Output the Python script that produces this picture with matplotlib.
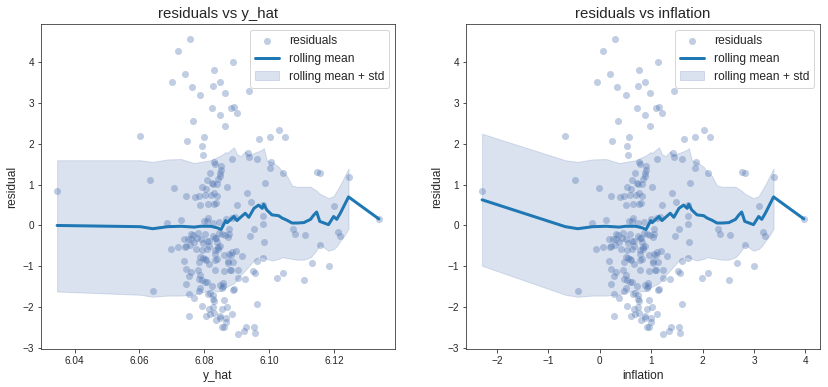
import numpy as np
import matplotlib
matplotlib.use('Agg')
from matplotlib import pyplot as plt
import seaborn as sns

# residuals (x = inflation)
inflation = [-2.29, -0.67, -0.49, -0.43, -0.16, -0.07, -0.05, -0.02,
             0.07, 0.07, 0.13, 0.17, 0.17, 0.19, 0.19, 0.21, 0.21, 0.22, 0.22, 0.24,
             0.26, 0.28, 0.28, 0.28, 0.30, 0.30, 0.32, 0.32, 0.32, 0.34, 0.36, 0.36,
             0.37, 0.38, 0.40, 0.42, 0.44, 0.46, 0.46, 0.48, 0.48, 0.48, 0.48, 0.50,
             0.50, 0.50, 0.50, 0.50, 0.51, 0.52, 0.52, 0.53, 0.53, 0.53, 0.55, 0.55,
             0.55, 0.57, 0.57, 0.58, 0.59, 0.59, 0.59, 0.61, 0.61, 0.61, 0.63, 0.63,
             0.63, 0.63, 0.63, 0.65, 0.65, 0.65, 0.67, 0.67, 0.67, 0.67, 0.69, 0.69,
             0.69, 0.71, 0.73, 0.73, 0.73, 0.75, 0.75, 0.75, 0.75, 0.75, 0.75, 0.75,
             0.76, 0.76, 0.77, 0.77, 0.77, 0.77, 0.78, 0.79, 0.79, 0.79, 0.79, 0.79,
             0.81, 0.81, 0.81, 0.83, 0.83, 0.83, 0.83, 0.84, 0.84, 0.84, 0.86, 0.86,
             0.87, 0.88, 0.88, 0.88, 0.88, 0.88, 0.88, 0.88, 0.90, 0.90, 0.92, 0.92,
             0.92, 0.92, 0.94, 0.94, 0.96, 0.96, 0.96, 0.96, 0.97, 0.98, 0.98, 1.00,
             1.00, 1.00, 1.02, 1.02, 1.04, 1.04, 1.04, 1.05, 1.05, 1.06, 1.08, 1.10,
             1.10, 1.10, 1.11, 1.12, 1.12, 1.12, 1.13, 1.14, 1.14, 1.16, 1.16, 1.17,
             1.19, 1.21, 1.21, 1.23, 1.23, 1.23, 1.31, 1.35, 1.37, 1.39, 1.41, 1.43,
             1.45, 1.45, 1.47, 1.48, 1.52, 1.54, 1.54, 1.56, 1.56, 1.60, 1.60, 1.60,
             1.64, 1.72, 1.72, 1.72, 1.72, 1.74, 1.75, 1.85, 1.85, 1.87, 1.99, 2.03,
             2.10, 2.10, 2.14, 2.30, 2.34, 2.51, 2.53, 2.67, 2.76, 2.82, 2.82, 3.00,
             3.09, 3.17, 3.22, 3.38, 3.97]
residual = [0.84, 2.20, 1.11, -1.62, 0.06, -0.58, 3.52, 0.91,
            4.28, -0.53, 0.13, -0.33, -0.87, 3.72, -0.53, 0.72, -1.43, -0.50, -1.06, 2.08,
            -0.33, -1.23, -1.67, -2.22, 4.58, -0.48, -0.33, -0.21, -1.14, 3.40, 2.57, -0.23,
            -1.77, -0.40, 0.69, -0.58, -0.31, -0.19, -1.09, 0.72, -0.89, -1.62, -1.31, 3.20,
            0.50, -0.77, -1.21, -1.53, -0.33, 1.94, -0.60, 0.94, -1.33, -1.97, 1.74, -0.43,
            -0.80, 2.18, 0.11, -1.38, 0.74, -0.21, -0.82, 0.89, -0.84, -2.22, 1.11, 0.11,
            -0.38, -0.58, -1.38, 0.18, 0.52, -1.67, -0.50, -0.38, -0.94, -2.04, 1.28, -1.65,
            -2.16, 0.74, 2.89, 1.03, -1.48, 3.42, 1.01, 0.06, -0.26, -1.70, -1.80, -2.01,
            0.52, -1.85, 3.81, 1.55, 0.79, -2.14, 1.50, -0.31, -0.60, -0.70, -0.84, -1.09,
            0.55, -0.31, -2.33, 1.01, 0.72, -0.40, -0.82, 1.13, -0.53, -0.58, 0.08, -0.19,
            1.22, 3.52, 2.72, 1.28, -0.50, -1.45, -2.22, -2.28, 1.47, 1.35, -0.21, -1.53,
            -2.05, -2.48, -1.48, -1.40, -0.72, -1.11, -1.84, -2.50, 3.25, 2.43, -0.23, 0.16,
            -2.28, -2.38, 0.95, -2.01, -0.28, -0.87, -0.92, -0.09, -0.21, -0.70, -1.09, 2.89,
            -0.72, -1.09, 1.62, 0.18, -0.65, -2.16, 4.01, -0.89, -1.58, 2.91, -1.55, 0.20,
            -0.62, 2.77, 0.50, -1.09, -1.28, -2.67, -0.75, -2.58, -1.31, -2.50, 0.79, 1.77,
            3.30, 1.67, -0.26, 0.57, -1.11, -0.09, -2.50, -1.16, -2.65, 1.62, -0.87, -1.92,
            2.11, 0.50, 0.23, 0.03, -0.80, -0.40, 1.03, 2.18, 1.40, 1.55, -1.28, 2.35,
            1.28, -1.16, 2.16, -0.09, -0.21, -1.33, -0.23, -0.92, 1.30, 1.28, -0.48, -0.99,
            0.47, -0.16, -0.26, 1.20, 0.16]

# fitted line y_hat = b0 + b1 * inflation
b0, b1 = 6.0709, 0.01586

# rolling mean / band
roll_x = [-2.29, -0.67, -0.43, -0.14, 0.12, 0.38, 0.50, 0.70, 0.83, 0.90, 0.99, 1.02,
          1.15, 1.21, 1.28, 1.37, 1.44, 1.54, 1.63, 1.70, 1.73, 1.79, 1.89, 2.02, 2.09,
          2.18, 2.28, 2.38, 2.51, 2.64, 2.70, 2.76, 2.82, 2.99, 3.09, 3.15, 3.22, 3.30,
          3.38, 3.97]
roll_mean = [0.63, -0.03, -0.08, -0.03, -0.02, -0.04, -0.02, -0.02, -0.06, -0.10, 0.12, 0.07,
             0.22, 0.12, 0.20, 0.30, 0.20, 0.42, 0.50, 0.42, 0.52, 0.38, 0.26, 0.24, 0.18,
             0.13, 0.06, 0.06, 0.07, 0.15, 0.25, 0.33, 0.10, 0.02, 0.22, 0.15, 0.30, 0.50,
             0.70, 0.16]
roll_hi = [2.25, 1.60, 1.56, 1.62, 1.63, 1.53, 1.56, 1.60, 1.68, 1.72, 1.80, 1.78,
           1.92, 1.75, 1.70, 1.82, 1.72, 1.78, 1.82, 1.86, 1.90, 1.60, 1.55, 1.44, 1.32,
           1.22, 0.98, 0.95, 0.95, 0.95, 0.90, 0.85, 0.78, 0.67, 0.72, 0.85, 1.00, 1.20,
           1.40, np.nan]
roll_lo = [-0.99, -1.70, -1.75, -1.72, -1.72, -1.69, -1.65, -1.58, -1.62, -1.60, -1.52, -1.50,
           -1.42, -1.33, -1.22, -1.10, -1.00, -0.86, -0.78, -0.76, -0.78, -0.82, -0.86, -0.82, -0.78,
           -0.80, -0.82, -0.84, -0.84, -0.78, -0.70, -0.60, -0.47, -0.62, -0.58, -0.51, -0.38, -0.25,
           -0.08, np.nan]
# left panel starts flat (mean, lo, hi at the first point)
left_start = [0.0, -1.62, 1.60]

sns.set_style('ticks')
plt.rcParams['font.family'] = ['Liberation Sans', 'DejaVu Sans']

infl = np.array(inflation)
res = np.array(residual)
y_hat = b0 + b1 * infl
rx = np.array(roll_x)

mean_l = np.array(roll_mean); lo_l = np.array(roll_lo); hi_l = np.array(roll_hi)
mean_l[0], lo_l[0], hi_l[0] = left_start

panels = [
    (y_hat, b0 + b1 * rx, mean_l, lo_l, hi_l, 'y_hat'),
    (infl, rx, np.array(roll_mean), np.array(roll_lo), np.array(roll_hi), 'inflation'),
]

fig = plt.figure(figsize=(11.5, 5.375), dpi=72)
for i, (x, xr, m, lo, hi, name) in enumerate(panels):
    ax = fig.add_axes([0.0495 + i * 0.5133, 0.098, 0.4275, 0.84])
    h1 = ax.scatter(x, res, s=50, color='#4C72B0', alpha=0.35, linewidths=0)
    h2, = ax.plot(xr, m, color='#1f77b4', lw=3)
    h3 = ax.fill_between(xr, lo, hi, color='#4C72B0', alpha=0.2)
    ax.set_title('residuals vs ' + name, fontsize=15)
    ax.set_xlabel(name, fontsize=12)
    ax.set_ylabel('residual', fontsize=12)
    ax.tick_params(labelsize=10)
    for s in ax.spines.values():
        s.set_color('0.2')
    ax.legend([h1, h2, h3], ['residuals', 'rolling mean', 'rolling mean + std'],
              loc='upper right', fontsize=12)

fig.savefig('out.png', dpi=72)
